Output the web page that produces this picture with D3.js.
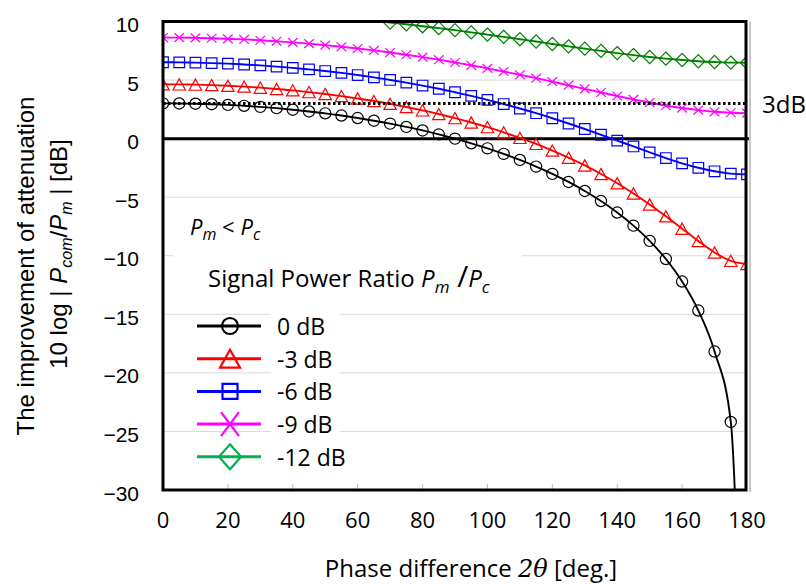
<!DOCTYPE html>
<html>
<head>
<meta charset="utf-8">
<script src="https://cdn.jsdelivr.net/npm/d3@7/dist/d3.min.js"></script>
<style>
body { margin: 0; background: #fff; }
</style>
</head>
<body>
<script>
var phase = [0, 5, 10, 15, 20, 25, 30, 35, 40, 45, 50, 55, 60, 65, 70, 75, 80, 85, 90,
             95, 100, 105, 110, 115, 120, 125, 130, 135, 140, 145, 150, 155, 160, 165, 170, 175, 180];

// one value every 5 deg
var ratio0dB = [3.01, 3.00, 2.98, 2.94, 2.88, 2.80, 2.71, 2.60, 2.47, 2.32, 2.16, 1.97, 1.76, 1.53, 1.28, 1.00, 0.70, 0.36, 0.00,
                -0.40, -0.83, -1.30, -1.82, -2.39, -3.01, -3.70, -4.47, -5.33, -6.31, -7.43, -8.73, -10.28, -12.20, -14.68, -18.18, -24.19, -70];
var ratio3dB = [4.64, 4.63, 4.61, 4.57, 4.51, 4.44, 4.35, 4.24, 4.12, 3.97, 3.81, 3.63, 3.43, 3.21, 2.97, 2.70, 2.41, 2.10, 1.75,
                1.38, 0.98, 0.54, 0.06, -0.45, -1.02, -1.63, -2.29, -3.02, -3.81, -4.68, -5.62, -6.63, -7.69, -8.75, -9.72, -10.44, -10.70];
var ratio6dB = [6.52, 6.51, 6.49, 6.45, 6.40, 6.33, 6.25, 6.15, 6.04, 5.91, 5.77, 5.61, 5.43, 5.23, 5.01, 4.78, 4.53, 4.26, 3.96,
                3.65, 3.31, 2.95, 2.57, 2.17, 1.74, 1.29, 0.82, 0.33, -0.17, -0.67, -1.18, -1.66, -2.11, -2.49, -2.79, -2.99, -3.05];
var ratio9dB = [8.63, 8.62, 8.60, 8.57, 8.52, 8.47, 8.40, 8.31, 8.22, 8.11, 7.98, 7.84, 7.69, 7.53, 7.35, 7.16, 6.96, 6.74, 6.50,
                6.26, 6.00, 5.73, 5.45, 5.16, 4.86, 4.56, 4.25, 3.94, 3.64, 3.35, 3.08, 2.83, 2.61, 2.43, 2.29, 2.21, 2.18];
var ratio12dB = [10.94, 10.93, 10.92, 10.89, 10.85, 10.80, 10.75, 10.68, 10.60, 10.51, 10.41, 10.30, 10.18, 10.05, 9.91, 9.76, 9.60, 9.43, 9.26,
                 9.07, 8.88, 8.69, 8.49, 8.29, 8.08, 7.88, 7.68, 7.49, 7.30, 7.13, 6.97, 6.83, 6.71, 6.61, 6.54, 6.49, 6.48];

var seriesNames = ['0 dB', '-3 dB', '-6 dB', '-9 dB', '-12 dB'];
var xTicks = [0, 20, 40, 60, 80, 100, 120, 140, 160, 180];
var yTicks = [10, 5, 0, -5, -10, -15, -20, -25, -30];
var gridValues = [5, -5, -10, -15, -20, -25];
var thresholdDb = 3;

var allSeries = [ratio0dB, ratio3dB, ratio6dB, ratio9dB, ratio12dB],
    lineColors = ['#000000', '#ff0000', '#0000ff', '#ff00ff', '#008000'],
    legendColors = ['#000000', '#ff0000', '#0000ff', '#ff00ff', '#00b050'],
    shapes = ['circle', 'triangle', 'square', 'times', 'diamond'],
    width = 806, height = 584, x, y, svg, plot, line, plotLeft, plotRight, plotTop, plotBottom;

plotLeft = 163; plotRight = 747; plotTop = 21.5; plotBottom = 490;

x = d3.scaleLinear().domain([0, 180]).range([plotLeft, plotRight]);
y = d3.scaleLinear().domain([-30, 10]).range([plotBottom, plotTop]);

// marker outlines, centred on 0,0
function markerPath(shape, big) {
  if (shape === 'circle') {
    var r = big ? 8 : 5.6;
    return 'M' + (-r) + ',0A' + r + ',' + r + ' 0 1,0 ' + r + ',0A' + r + ',' + r + ' 0 1,0 ' + (-r) + ',0Z';
  }
  if (shape === 'triangle') {
    var w = big ? 10 : 6.2, h = big ? 9 : 5.6;
    return 'M0,' + (-h) + 'L' + w + ',' + h + 'L' + (-w) + ',' + h + 'Z';
  }
  if (shape === 'square') {
    var s = big ? 7.5 : 5.3;
    return 'M' + (-s) + ',' + (-s) + 'H' + s + 'V' + s + 'H' + (-s) + 'Z';
  }
  if (shape === 'times') {
    var a = big ? 9 : 4.8, b = big ? 12 : 4.4;
    return 'M' + (-a) + ',' + (-b) + 'L' + a + ',' + b + 'M' + (-a) + ',' + b + 'L' + a + ',' + (-b);
  }
  var dw = big ? 11 : 6.6, dh = big ? 12.5 : 6.6;
  return 'M0,' + (-dh) + 'L' + dw + ',0L0,' + dh + 'L' + (-dw) + ',0Z';
}

svg = d3.select('body').append('svg').attr('width', width).attr('height', height)
  .style('font-family', '"Open Sans", sans-serif');

svg.append('defs').append('clipPath').attr('id', 'plotclip')
  .append('rect').attr('x', plotLeft).attr('y', plotTop).attr('width', plotRight - plotLeft).attr('height', plotBottom - plotTop);

// grid
svg.append('g').selectAll('line').data(gridValues).enter().append('line')
  .attr('x1', plotLeft).attr('x2', plotRight)
  .attr('y1', function (d) { return y(d); }).attr('y2', function (d) { return y(d); })
  .attr('stroke', '#d9d9d9').attr('stroke-width', 1);

// small ticks on the bottom axis
svg.append('g').selectAll('line').data(xTicks.slice(1, -1)).enter().append('line')
  .attr('x1', function (d) { return x(d); }).attr('x2', function (d) { return x(d); })
  .attr('y1', plotBottom - 6).attr('y2', plotBottom)
  .attr('stroke', '#bbbbbb').attr('stroke-width', 1);

// white boxes behind the legend texts (they hide the grid)
svg.append('rect').attr('x', 173).attr('y', 240).attr('width', 349).attr('height', 34).attr('fill', '#fff');
svg.append('rect').attr('x', 271).attr('y', 308).attr('width', 69).attr('height', 132).attr('fill', '#fff');

// zero line
svg.append('line').attr('x1', plotLeft).attr('x2', plotRight + 4)
  .attr('y1', y(0)).attr('y2', y(0)).attr('stroke', '#000').attr('stroke-width', 3);

line = d3.line()
  .x(function (d, i) { return x(phase[i]); })
  .y(function (d) { return y(d); })
  .curve(d3.curveMonotoneX);

plot = svg.append('g').attr('clip-path', 'url(#plotclip)');

allSeries.forEach(function (values, s) {
  plot.append('path').attr('d', line(values))
    .attr('fill', 'none').attr('stroke', lineColors[s]).attr('stroke-width', 1.9);
  plot.append('g').selectAll('path')
    .data(values.map(function (v, i) { return [phase[i], v]; })
      .filter(function (p) { return p[1] <= 10 && p[1] >= -30; }))
    .enter().append('path')
    .attr('transform', function (p) { return 'translate(' + x(p[0]) + ',' + y(p[1]) + ')'; })
    .attr('d', markerPath(shapes[s], false))
    .attr('fill', 'none').attr('stroke', lineColors[s]).attr('stroke-width', 1.2);
});

// 3 dB reference
svg.append('line').attr('x1', plotLeft).attr('x2', plotRight)
  .attr('y1', y(thresholdDb)).attr('y2', y(thresholdDb))
  .attr('stroke', '#000').attr('stroke-width', 2.8).attr('stroke-dasharray', '2.5,2.5');
svg.append('text').attr('x', 762).attr('y', y(thresholdDb) + 10)
  .attr('font-size', 24).text(thresholdDb + 'dB');

// frame
svg.append('line').attr('x1', plotRight + 3).attr('x2', plotRight + 3).attr('y1', plotTop).attr('y2', plotBottom + 2)
  .attr('stroke', '#c8c8c8').attr('stroke-width', 2);
svg.append('rect').attr('x', plotLeft).attr('y', plotTop).attr('width', plotRight - 1 - plotLeft).attr('height', plotBottom - plotTop)
  .attr('fill', 'none').attr('stroke', '#000').attr('stroke-width', 3);

// axes labels
svg.append('g').selectAll('text').data(yTicks).enter().append('text')
  .attr('x', 139).attr('y', function (d) { return y(d) + 10.5; })
  .attr('text-anchor', 'end').attr('font-family', '"Liberation Sans", Arial, sans-serif').attr('font-size', 21)
  .text(function (d) { return d < 0 ? '\u2212' + Math.abs(d) : d; });

svg.append('g').selectAll('text').data(xTicks).enter().append('text')
  .attr('x', function (d) { return x(d); }).attr('y', 528)
  .attr('text-anchor', 'middle').attr('font-size', 22)
  .text(function (d) { return d; });

var xTitle = svg.append('text').attr('x', 471).attr('y', 577).attr('text-anchor', 'middle').attr('font-size', 24);
xTitle.append('tspan').text('Phase difference ');
xTitle.append('tspan').attr('font-style', 'italic').attr('font-family', '"DejaVu Serif", serif').text('2\u03B8');
xTitle.append('tspan').text(' [deg.]');

var yTitle = svg.append('g').attr('font-family', '"Liberation Sans", Arial, sans-serif').attr('font-size', 24);
yTitle.append('text').attr('transform', 'translate(34,266) rotate(-90)').attr('text-anchor', 'middle')
  .text('The improvement of attenuation');
var yt2 = yTitle.append('text').attr('transform', 'translate(67,254) rotate(-90)').attr('text-anchor', 'middle');
yt2.append('tspan').text('10 log | ');
yt2.append('tspan').attr('font-style', 'italic').text('P');
yt2.append('tspan').attr('font-style', 'italic').attr('font-size', 16).attr('dy', 5).text('com');
yt2.append('tspan').attr('dy', -5).text('/');
yt2.append('tspan').attr('font-style', 'italic').text('P');
yt2.append('tspan').attr('font-style', 'italic').attr('font-size', 16).attr('dy', 5).text('m');
yt2.append('tspan').attr('dy', -5).text(' | [dB]');

// annotations
var cond = svg.append('text').attr('x', 190).attr('y', 235).attr('font-size', 22);
cond.append('tspan').attr('font-style', 'italic').text('P');
cond.append('tspan').attr('font-style', 'italic').attr('font-size', 16).attr('dy', 5).text('m');
cond.append('tspan').attr('dy', -5).text(' < ');
cond.append('tspan').attr('font-style', 'italic').text('P');
cond.append('tspan').attr('font-style', 'italic').attr('font-size', 16).attr('dy', 5).text('c');

var legTitle = svg.append('text').attr('x', 208).attr('y', 287).attr('font-size', 24);
legTitle.append('tspan').text('Signal Power Ratio ');
legTitle.append('tspan').attr('font-style', 'italic').text('P');
legTitle.append('tspan').attr('font-style', 'italic').attr('font-size', 17).attr('dy', 6).text('m');
legTitle.append('tspan').attr('dy', -6).attr('font-size', 30).text(' /');
legTitle.append('tspan').attr('font-style', 'italic').text('P');
legTitle.append('tspan').attr('font-style', 'italic').attr('font-size', 17).attr('dy', 6).text('c');

// legend
var legend = svg.append('g').selectAll('g').data(seriesNames).enter().append('g')
  .attr('transform', function (d, i) { return 'translate(0,' + (326 + i * 32.7) + ')'; });
legend.append('line').attr('x1', 197).attr('x2', 261).attr('y1', 0).attr('y2', 0)
  .attr('stroke', function (d, i) { return legendColors[i]; }).attr('stroke-width', 3);
legend.append('path').attr('transform', 'translate(230,0)')
  .attr('d', function (d, i) { return markerPath(shapes[i], true); })
  .attr('fill', 'none').attr('stroke', function (d, i) { return legendColors[i]; }).attr('stroke-width', 2.2);
legend.append('text').attr('x', 277).attr('y', 9).attr('font-size', 23)
  .text(function (d) { return d; });
</script>
</body>
</html>
